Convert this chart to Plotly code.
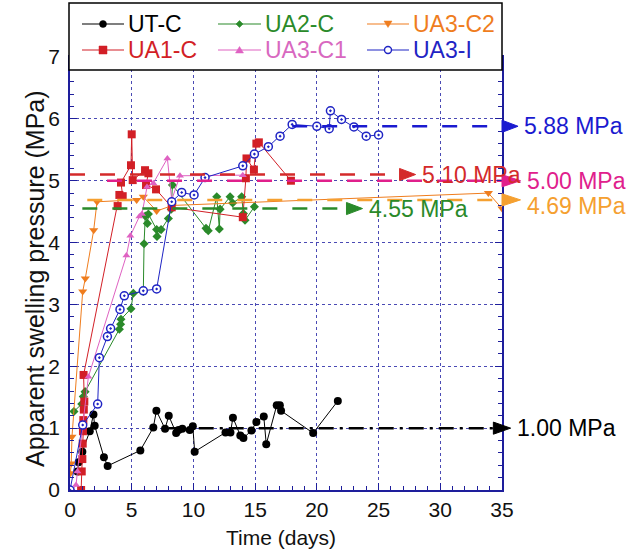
import plotly.graph_objects as go

# ---- measured swelling pressure (days, MPa) ----
utc_t = [0.6, 0.7, 1.0, 1.6, 1.9, 2.0, 2.75, 3.05, 5.7, 6.75, 7.0, 7.7, 8.0, 8.6, 8.8, 9.1,
         9.7, 9.95, 10.1, 12.6, 13.0, 13.2, 13.8, 14.05, 14.7, 15.1, 15.7, 15.9, 16.75, 17.0,
         17.1, 19.7, 21.7]
utc_p = [0.30, 0.45, 0.62, 0.95, 1.22, 1.04, 0.53, 0.39, 0.64, 1.01, 1.28, 0.99, 1.20, 0.92,
         0.97, 0.99, 0.97, 1.03, 0.62, 0.93, 0.93, 1.17, 0.88, 0.84, 0.96, 1.10, 1.19, 0.74,
         1.37, 1.37, 1.28, 0.92, 1.44]

ua1_t = [0.9, 0.95, 1.0, 1.03, 1.05, 1.08, 1.12, 1.16, 1.1, 3.86, 4.0, 4.27, 4.13, 4.94, 5.0,
         5.08, 6.08, 6.35, 6.16, 6.97, 8.24, 14.0, 14.25, 14.3, 14.9, 15.1, 15.3, 17.9]
ua1_p = [0.0, 0.30, 0.50, 0.75, 0.95, 1.13, 1.30, 1.43, 1.86, 4.59, 4.77, 4.75, 4.97, 5.25,
         5.75, 5.01, 5.17, 5.12, 4.93, 4.86, 4.57, 4.41, 5.04, 5.36, 5.18, 5.60, 5.62, 5.00]

ua2_t = [0.32, 0.95, 1.08, 1.22, 4.0, 4.1, 4.13, 4.94, 5.13, 5.94, 6.0, 6.1, 6.27, 6.35, 7.02,
         7.05, 7.38, 7.97, 8.2, 8.3, 11.02, 11.2, 11.89, 12.1, 12.16, 12.97, 13.18, 13.91,
         14.05, 14.18, 14.94]
ua2_p = [1.27, 1.39, 1.51, 1.59, 2.60, 2.68, 2.76, 2.93, 3.18, 3.21, 3.98, 4.43, 4.31, 4.46,
         4.21, 4.10, 4.21, 4.39, 4.54, 4.93, 4.23, 4.19, 4.74, 4.22, 4.54, 4.74, 4.64, 4.74,
         4.47, 4.36, 4.58]

ua3c1_t = [0.2, 0.49, 0.6, 1.49, 4.57, 4.89, 5.62, 5.83, 6.24, 6.75, 7.89, 8.24, 8.91, 14.0]
ua3c1_p = [0.0, 0.08, 0.30, 1.83, 3.79, 4.11, 4.42, 4.46, 4.90, 4.96, 5.36, 4.69, 5.08, 5.09]

ua3c2_t = [0.03, 0.1, 0.16, 1.03, 1.24, 1.92, 2.19, 5.4, 5.94, 7.02, 8.3, 33.9, 35.0]
ua3c2_p = [0.27, 0.43, 0.86, 3.21, 3.42, 4.20, 4.66, 4.69, 4.74, 4.51, 4.60, 4.80, 4.55]

ua3i_t = [0.0, 1.03, 2.24, 2.38, 3.03, 3.29, 4.05, 4.4, 5.94, 7.02, 8.24, 9.05, 10.05, 10.94,
          14.0, 14.94, 16.07, 17.02, 18.0, 20.0, 21.0, 21.1, 22.0, 23.0, 24.0, 25.0]
ua3i_p = [0.0, 1.05, 1.39, 2.14, 2.48, 2.61, 2.92, 3.14, 3.22, 3.25, 4.66, 4.81, 4.77, 5.05,
          5.24, 5.43, 5.55, 5.72, 5.91, 5.88, 5.84, 6.13, 5.99, 5.87, 5.72, 5.74]

# ---- equilibrium swelling pressures (MPa) ----
eq_names = ["UA3-I", "UA1-C", "UA3-C1", "UA3-C2", "UA2-C", "UT-C"]
eq_values = [5.88, 5.10, 5.00, 4.69, 4.55, 1.00]
eq_start = [18.0, 0.0, 3.0, 1.4, 1.0, 8.0]
eq_end = [35.0, 26.7, 35.0, 35.0, 22.4, 34.3]
eq_tip = [36.3, 28.0, 36.5, 36.5, 23.7, 35.7]

x_ticks = [0, 5, 10, 15, 20, 25, 30, 35]
y_ticks = [0, 1, 2, 3, 4, 5, 6, 7]
X_MAX, Y_MAX = 35, 7

FONT = "Arial, 'Liberation Sans', sans-serif"
AXIS = "#1e1e9c"
GRID = "#4a4ab4"

# plot area in pixels (figure 630 x 550)
L, R, T, B = 70, 128, 57, 60
PW, PH = 630 - L - R, 550 - T - B

series = [
    ("UT-C", utc_t, utc_p, "#000000", dict(symbol="circle", size=8)),
    ("UA2-C", ua2_t, ua2_p, "#2a8a2a", dict(symbol="diamond", size=7)),
    ("UA3-C2", ua3c2_t, ua3c2_p, "#ef7d1e", dict(symbol="triangle-down", size=8)),
    ("UA1-C", ua1_t, ua1_p, "#d21f26", dict(symbol="square", size=8)),
    ("UA3-C1", ua3c1_t, ua3c1_p, "#df62c2", dict(symbol="triangle-up", size=7)),
    ("UA3-I", ua3i_t, ua3i_p, "#1f24c4",
     dict(symbol="circle-dot", size=8, color="white", line=dict(color="#1f24c4", width=1.5))),
]

eq_style = {
    "UA3-I": ("#1a1ad0", "longdash"),
    "UA1-C": ("#d42a2a", "longdash"),
    "UA3-C1": ("#e0208c", "longdash"),
    "UA3-C2": ("#f5a030", "longdash"),
    "UA2-C": ("#2a8a2a", "longdash"),
    "UT-C": ("#000000", "longdashdot"),
}
label_shift = {"UA3-C2": -6}

fig = go.Figure()

for name, t, p, col, mk in series:
    marker = dict(color=col)
    marker.update(mk)
    fig.add_trace(go.Scatter(
        x=t, y=p, mode="lines+markers", name=name,
        line=dict(color=col, width=1), marker=marker,
    ))


# plot-area fraction helpers (for items placed outside the axis ranges)
def fx(d):
    return d / X_MAX


def fy(p):
    return p / Y_MAX


def px_x(px):
    return (px - L) / PW


def px_y(py):
    return (550 - B - py) / PH


HEAD_H = 0.014
for name, val, x0, x1, xt in zip(eq_names, eq_values, eq_start, eq_end, eq_tip):
    col, dash = eq_style[name]
    fig.add_trace(go.Scatter(
        x=[x0, x1], y=[val, val], mode="lines", showlegend=False,
        line=dict(color=col, width=2.5, dash=dash), hoverinfo="skip",
    ))
    fig.add_shape(
        type="path", xref="paper", yref="paper", layer="above",
        path=f"M {fx(x1)} {fy(val) - HEAD_H} L {fx(xt)} {fy(val)} L {fx(x1)} {fy(val) + HEAD_H} Z",
        fillcolor=col, line=dict(color=col, width=1),
    )
    fig.add_annotation(
        x=fx(xt), y=fy(val), xref="paper", yref="paper", text=f"{val:.2f} MPa", showarrow=False,
        xanchor="left", yanchor="middle", xshift=4, yshift=label_shift.get(name, 0),
        font=dict(family=FONT, size=23, color=col),
    )

# ---- legend box: three columns, two rows ----
fig.add_shape(type="rect", xref="paper", yref="paper", layer="above",
              x0=px_x(69), x1=px_x(502), y0=px_y(70), y1=px_y(3),
              fillcolor="white", line=dict(color="black", width=1.5))

legend_cols = [(82, 124), (218, 261), (367, 409)]
legend_rows = [24, 50]
legend_text_col = {"UA3-C1": "#d868c0"}
marker_paths = {
    "diamond": "M -3.5 0 L 0 3.5 L 3.5 0 L 0 -3.5 Z",
    "triangle-down": "M -4 3 L 4 3 L 0 -3.5 Z",
    "square": "M -4 -4 L 4 -4 L 4 4 L -4 4 Z",
    "triangle-up": "M -4 -3 L 4 -3 L 0 3.5 Z",
}
for i, (name, t, p, col, mk) in enumerate(series):
    row, c = divmod(i, 3)
    lx0, lx1 = legend_cols[c]
    ly = px_y(legend_rows[row])
    fig.add_shape(type="line", xref="paper", yref="paper", layer="above",
                  x0=px_x(lx0), x1=px_x(lx1), y0=ly, y1=ly, line=dict(color=col, width=1.2))
    sym = mk["symbol"]
    mx = px_x((lx0 + lx1) / 2)
    if sym in ("circle", "circle-dot"):
        hollow = sym == "circle-dot"
        fig.add_shape(type="circle", xref="paper", yref="paper", layer="above",
                      xsizemode="pixel", ysizemode="pixel", xanchor=mx, yanchor=ly,
                      x0=-3.5, x1=3.5, y0=-3.5, y1=3.5,
                      fillcolor="white" if hollow else col,
                      line=dict(color=col, width=1.4 if hollow else 0.5))
    else:
        fig.add_shape(type="path", xref="paper", yref="paper", layer="above",
                      xsizemode="pixel", ysizemode="pixel", xanchor=mx, yanchor=ly,
                      path=marker_paths[sym], fillcolor=col, line=dict(color=col, width=0.5))
    fig.add_annotation(x=px_x(lx1 + 2), y=ly, xref="paper", yref="paper", text=name,
                       showarrow=False, xanchor="left", yanchor="middle",
                       font=dict(family=FONT, size=23, color=legend_text_col.get(name, col)))

axis_common = dict(
    showline=True, linecolor=AXIS, linewidth=1.5, mirror="ticks",
    ticks="inside", ticklen=7, tickcolor=AXIS, tickwidth=1,
    showgrid=True, gridcolor=GRID, griddash="dot", gridwidth=1,
    zeroline=False, automargin=False,
    tickfont=dict(family=FONT, size=21, color="#111111"),
)

fig.update_xaxes(
    range=[0, X_MAX], tickvals=x_ticks, ticktext=[str(v) for v in x_ticks],
    minor=dict(dtick=1, ticks="inside", ticklen=4, tickcolor=AXIS, showgrid=False),
    **axis_common,
)
fig.update_yaxes(
    range=[0, Y_MAX], tickvals=y_ticks, ticktext=[str(v) for v in y_ticks],
    minor=dict(dtick=0.2, ticks="inside", ticklen=4, tickcolor=AXIS, showgrid=False),
    ticklabelstandoff=4,
    **axis_common,
)

# axis titles
fig.add_annotation(x=px_x(281), y=px_y(537), xref="paper", yref="paper", text="Time (days)",
                   showarrow=False, xanchor="center", yanchor="middle",
                   font=dict(family=FONT, size=21, color="#111111"))
fig.add_annotation(x=px_x(35), y=px_y(279), xref="paper", yref="paper",
                   text="Apparent swelling pressure (MPa)", textangle=-90,
                   showarrow=False, xanchor="center", yanchor="middle",
                   font=dict(family=FONT, size=25, color="#111111"))

fig.update_layout(
    width=630, height=550,
    margin=dict(l=L, r=R, t=T, b=B, autoexpand=False),
    paper_bgcolor="white", plot_bgcolor="white",
    showlegend=False,
)

fig.write_html("out.html")
